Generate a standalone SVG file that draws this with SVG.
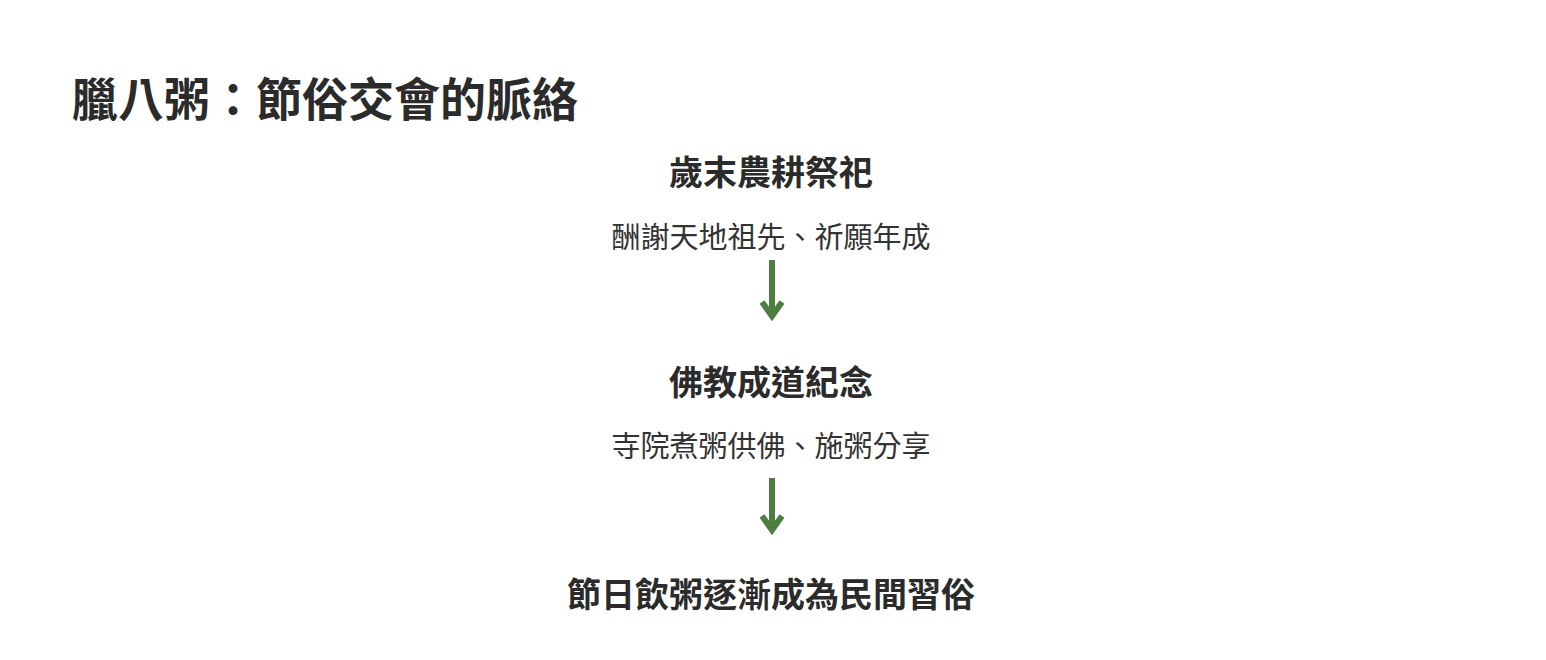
<svg xmlns="http://www.w3.org/2000/svg" width="1546" height="660" viewBox="0 0 1546 660">
<style>
text{font-family:"Noto Sans CJK TC","Noto Sans CJK SC",sans-serif;fill:#2b2b2b}
.t{font-size:46px;font-weight:700}
.h{font-size:34px;font-weight:700;text-anchor:middle}
.s{font-size:29px;text-anchor:middle;fill:#333}
.a{stroke:#4e7d42;stroke-width:6;fill:none}
</style>
<rect width="1546" height="660" fill="#fff"/>
<text class="t" x="72" y="116">臘八粥：節俗交會的脈絡</text>
<g id="n1"><text class="h" x="771" y="185">歲末農耕祭祀</text><text class="s" x="771" y="248">酬謝天地祖先、祈願年成</text></g>
<g id="n2"><text class="h" x="771" y="395">佛教成道紀念</text><text class="s" x="771" y="457">寺院煮粥供佛、施粥分享</text></g>
<g id="n3"><text class="h" x="771" y="607">節日飲粥逐漸成為民間習俗</text></g>
<g id="connectors">
<path class="a" d="M772 260V316M762 302L772 316L782 302"/>
<path class="a" d="M772 478V530M762 516L772 530L782 516"/>
</g>
</svg>
